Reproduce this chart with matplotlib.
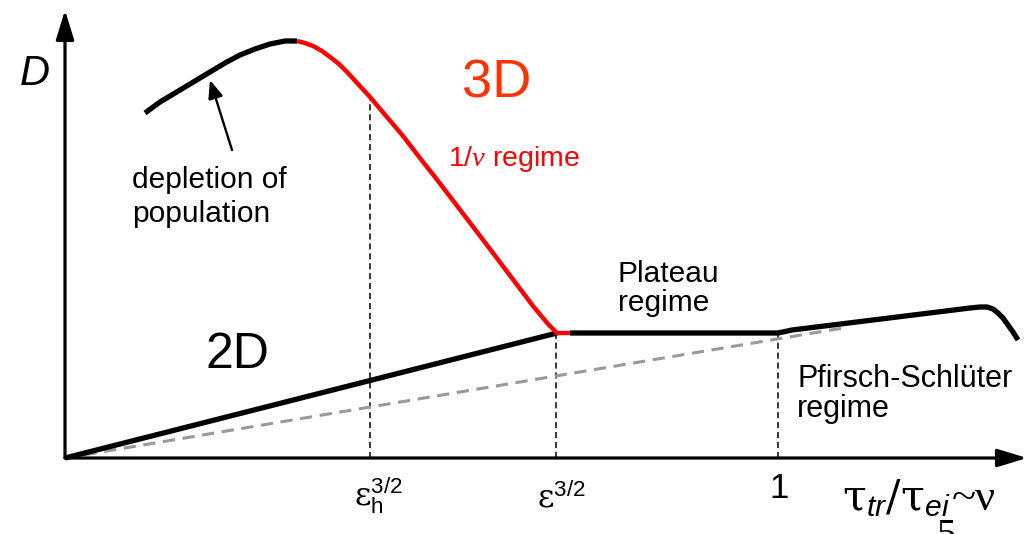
import matplotlib
matplotlib.use("Agg")
import matplotlib.pyplot as plt

plt.rcParams['font.family'] = ['Liberation Sans', 'DejaVu Sans']
plt.rcParams['mathtext.fontset'] = 'custom'
plt.rcParams['mathtext.rm'] = 'DejaVu Serif'
plt.rcParams['mathtext.it'] = 'Liberation Sans:italic'
plt.rcParams['mathtext.sf'] = 'Liberation Sans'
plt.rcParams['mathtext.bf'] = 'Liberation Serif:italic'

# ---- schematic data (diagram units, origin at axes crossing) ----
# depletion-of-population branch (black)
top_black_x = [80, 95, 115, 130, 145, 160, 175, 190, 205, 220, 232]
top_black_y = [345, 356, 368, 377, 386, 395, 403, 409, 414, 417, 417]
# 1/nu regime branch (red)
red_x = [232, 240, 248, 257, 265, 274, 282, 293, 305, 316, 327, 338, 348,
         358, 368, 378, 388, 428, 468, 483, 492, 505]
red_y = [417, 415, 412, 407, 401, 394, 386, 374, 361, 348, 335, 322, 309,
         296, 283.5, 270.5, 257.5, 205, 152, 134, 125, 125]
# 2D line (black)
line2d_x = [0, 492]
line2d_y = [0, 125]
# plateau + Pfirsch-Schlueter branch (black)
plat_x = [505, 713, 727, 905, 915, 922, 928, 933, 938, 943, 948, 953]
plat_y = [125, 125, 128, 150, 151, 151, 149, 145, 140, 133, 126, 118]
# gray dashed reference line
gray_x = [0, 778]
gray_y = [0, 130]
# vertical dashed markers
vline_x = [305, 491, 713]
vline_top = [361, 125, 125]
tick_labels = [r'$\mathrm{\varepsilon}_{\mathsf{h}}^{\mathsf{3/2}}$',
               r'$\mathrm{\varepsilon}^{\mathsf{3/2}}$', '1']

fig = plt.figure(figsize=(10.29, 5.34), dpi=100)
ax = fig.add_axes([0, 0, 1, 1])
ax.set_xlim(-65, 964)
ax.set_ylim(-76, 458)
ax.axis('off')

# axes arrows
arrow_kw = dict(arrowstyle='-|>,head_length=1.8,head_width=0.55',
                lw=2.3, color='black', mutation_scale=10, shrinkA=0, shrinkB=0)
ax.annotate('', xy=(962, 0), xytext=(0, 0), arrowprops=arrow_kw)
ax.annotate('', xy=(0, 448), xytext=(0, 0), arrowprops=arrow_kw)

# vertical dashed lines
for x, t in zip(vline_x, vline_top):
    ax.plot([x, x], [0, t], color='black', lw=1.1, ls=(0, (4, 2.5)), zorder=2)

# gray dashed line
ax.plot(gray_x, gray_y, color='#999999', lw=2.2, ls=(0, (4, 2.5)), zorder=2)

# curves
curve_kw = dict(solid_capstyle='butt', solid_joinstyle='round')
ax.plot(line2d_x, line2d_y, color='black', lw=3.8, zorder=3, **curve_kw)
ax.plot(plat_x, plat_y, color='black', lw=3.8, zorder=3, **curve_kw)
ax.plot(top_black_x, top_black_y, color='black', lw=3.8, zorder=3, **curve_kw)
ax.plot(red_x, red_y, color='#FF0000', lw=3.2, zorder=4, **curve_kw)

# depletion arrow
ax.annotate('', xy=(145, 378), xytext=(167, 308),
            arrowprops=dict(arrowstyle='-|>,head_length=1.1,head_width=0.45',
                            lw=1.7, color='black', mutation_scale=10,
                            shrinkA=0, shrinkB=0))

# tick labels
ax.text(289, -47, tick_labels[0], fontsize=23, ha='left', va='baseline')
ax.text(472, -49, tick_labels[1], fontsize=23, ha='left', va='baseline')
ax.text(714, -40, tick_labels[2], fontsize=25, ha='center', va='baseline')

# x-axis label: tau_tr / tau_ei ~ nu
xl = ax.text(777, -52, r'$\mathrm{\tau}_{tr}/\mathrm{\tau}_{ei}$',
             fontsize=31, ha='left', va='baseline')
fig.canvas.draw()
bb = xl.get_window_extent(renderer=fig.canvas.get_renderer())
x_end = ax.transData.inverted().transform((bb.x1, bb.y0))[0]
ax.text(x_end + 1, -52, '~ν', fontsize=32, family='Liberation Serif',
        ha='left', va='baseline')

ax.text(881, -60, '5', fontsize=28, ha='center', va='top', family='Liberation Serif')

# labels
ax.text(-45, 373, 'D', fontsize=30, style='italic', ha='left', va='baseline')
ax.text(397, 361, '3D', fontsize=39, color='#FF3300', ha='left', va='baseline')
ax.text(140, 90, '2D', fontsize=36, color='black', ha='left', va='baseline')
ax.text(383, 292, r'1/$\mathbf{\nu}$ regime', fontsize=20.5, color='#FF0000',
        ha='left', va='baseline')
ax.text(67, 270, 'depletion of', fontsize=21.5, ha='left', va='baseline')
ax.text(67, 236, 'population', fontsize=21.5, ha='left', va='baseline')
ax.text(553, 176, 'Plateau', fontsize=21.5, ha='left', va='baseline')
ax.text(553, 147, 'regime', fontsize=21.5, ha='left', va='baseline')
ax.text(732, 71, 'Pfirsch-Schlüter', fontsize=22, ha='left', va='baseline')
ax.text(732, 41, 'regime', fontsize=22, ha='left', va='baseline')

fig.savefig('out.png', dpi=100)
